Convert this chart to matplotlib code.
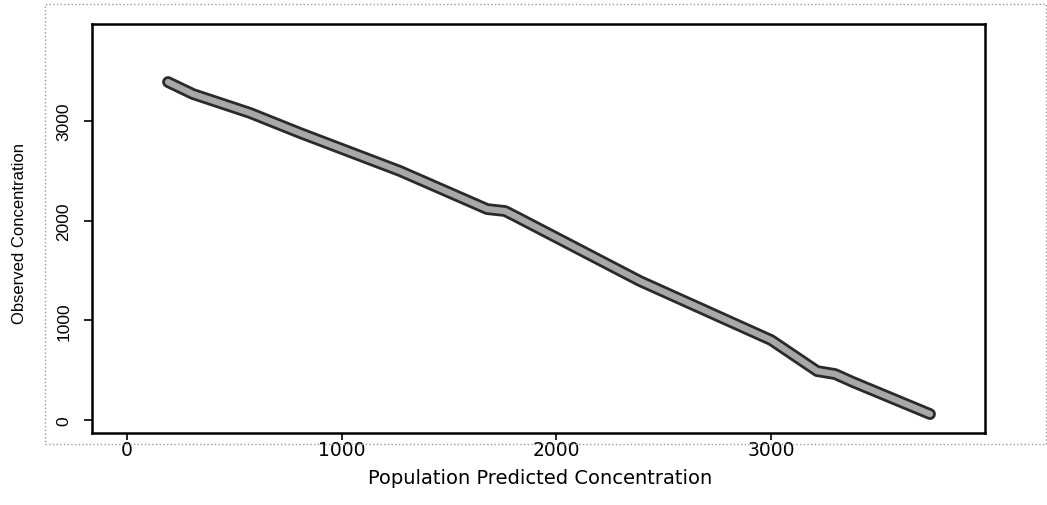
import matplotlib
matplotlib.use('Agg')
import matplotlib.pyplot as plt
from matplotlib.patches import Rectangle

# points (predicted vs observed)
predicted = [191, 307, 573, 806, 1272, 1677, 1761, 1816, 2389, 3000, 3214, 3298, 3381, 3740]
observed = [3390, 3270, 3080, 2879, 2497, 2116, 2096, 2036, 1394, 802, 491, 461, 381, 60]

x_ticks = [0, 1000, 2000, 3000]
y_ticks = [0, 1000, 2000, 3000]

plt.rcParams['font.family'] = ['Liberation Sans', 'DejaVu Sans']

fig = plt.figure(figsize=(10.47, 5.06), dpi=100)
ax = fig.add_axes([92 / 1047, 1 - 434 / 506, (985 - 92) / 1047, (434 - 25) / 506])

# thick band like the dense scatter in the original
ax.plot(predicted, observed, color='#2a2a2a', lw=8.5, solid_capstyle='round', zorder=2)
ax.plot(predicted, observed, color='#a8a8a8', lw=4.5, solid_capstyle='round', zorder=3)

ax.set_xlim(-163, 3996)
ax.set_ylim(-130, 3972)
ax.set_xticks(x_ticks)
ax.set_yticks(y_ticks)
# the scan is stretched sideways, so a wide face for horizontal text
ax.set_xticklabels([str(v) for v in x_ticks], fontsize=13.5, family='DejaVu Sans')
ax.set_yticklabels([str(v) for v in y_ticks], fontsize=12.5, rotation=90, va='center')
ax.tick_params(axis='x', direction='out', length=5, width=1.2, pad=0)
ax.tick_params(axis='y', direction='out', length=6, width=1.2, pad=9)

for sp in ax.spines.values():
    sp.set_linewidth(1.8)
    sp.set_color('black')

ax.set_xlabel('Population Predicted Concentration', fontsize=14, family='DejaVu Sans')
ax.xaxis.set_label_coords((540 - 92) / 893, (434 - 478) / 409)
ax.xaxis.label.set_va('center')
ax.set_ylabel('Observed Concentration', fontsize=12)
ax.yaxis.set_label_coords((20 - 92) / 893, (434 - 234) / 409)
ax.yaxis.label.set_va('center')

# faint dotted outer frame from the scan
fig.patches.append(Rectangle((45 / 1047, 1 - 445 / 506), 1 - 46 / 1047, (445 - 5) / 506,
                             transform=fig.transFigure, fill=False, ls=':', lw=1,
                             edgecolor='#999999'))

fig.savefig('out.png', dpi=100)
